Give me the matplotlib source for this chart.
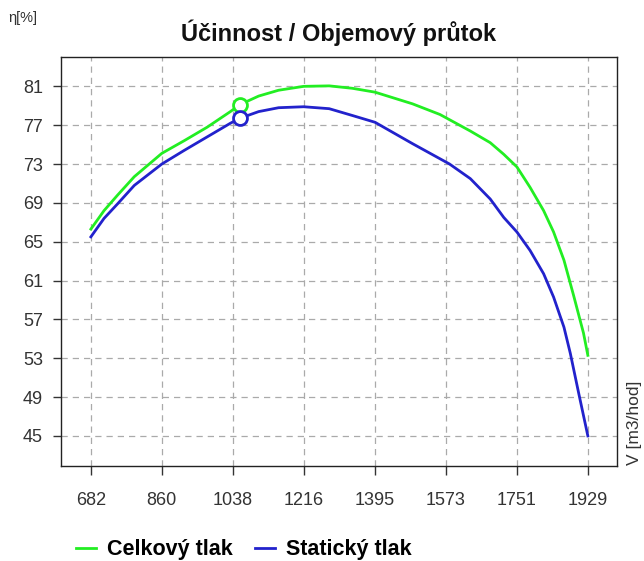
import matplotlib.pyplot as plt

plt.rcParams['font.family'] = ['Liberation Sans', 'DejaVu Sans']

# ── data ─────────────────────────────────────────────────────────────────
flow_celk = [682, 715, 749, 791, 860, 916, 974, 1032, 1055, 1103, 1153, 1216,
             1280, 1338, 1395, 1489, 1558, 1634, 1684, 1718, 1751, 1784, 1818,
             1843, 1869, 1893, 1918, 1929]
eta_celk  = [66.3, 68.2, 69.8, 71.7, 74.1, 75.4, 76.8, 78.4, 79.1, 80.0, 80.6, 81.0,
             81.05, 80.8, 80.4, 79.2, 78.1, 76.4, 75.2, 74.0, 72.7, 70.6, 68.2,
             66.0, 63.1, 59.5, 55.6, 53.3]

flow_stat = [682, 715, 749, 791, 860, 916, 974, 1032, 1055, 1103, 1153, 1216,
             1280, 1338, 1395, 1489, 1582, 1634, 1684, 1718, 1751, 1784, 1818,
             1843, 1869, 1885, 1906, 1929]
eta_stat  = [65.5, 67.4, 68.9, 70.8, 73.0, 74.4, 75.8, 77.2, 77.7, 78.4, 78.8, 78.9,
             78.7, 78.0, 77.3, 75.1, 73.0, 71.5, 69.4, 67.5, 66.0, 64.1, 61.7,
             59.3, 56.2, 53.5, 49.4, 45.0]

# pracovni bod
op_flow = 1055
op_celk = 79.1
op_stat = 77.7

x_ticks = [682, 860, 1038, 1216, 1395, 1573, 1751, 1929]
y_ticks = [45, 49, 53, 57, 61, 65, 69, 73, 77, 81]

GREEN = '#22ee22'
BLUE  = '#2222cc'

fig = plt.figure(figsize=(6.44, 5.61), dpi=100)
ax = fig.add_axes([0.0947, 0.1693, 0.8633, 0.7287])

ax.plot(flow_celk, eta_celk, color=GREEN, lw=2.0, label='Celkový tlak')
ax.plot(flow_stat, eta_stat, color=BLUE, lw=2.0, label='Statický tlak')
ax.plot([op_flow], [op_celk], 'o', ms=10, mfc='white', mec=GREEN, mew=2.0)
ax.plot([op_flow], [op_stat], 'o', ms=10, mfc='white', mec=BLUE, mew=2.0)

ax.set_xlim(607, 2002)
ax.set_ylim(41.9, 84.0)
ax.set_xticks(x_ticks)
ax.set_xticklabels([str(v) for v in x_ticks])
ax.set_yticks(y_ticks)
ax.set_yticklabels([str(v) for v in y_ticks])

ax.grid(True, color='#aaaaaa', ls=(0, (5, 4)), lw=0.9)
ax.tick_params(axis='x', length=6.5, width=1, pad=12, labelsize=13, colors='#333333')
ax.tick_params(axis='y', length=6, width=1, pad=7, labelsize=13, colors='#333333')
for s in ax.spines.values():
    s.set_color('#222222')
    s.set_linewidth(1.0)

fig.text(0.525, 0.941, 'Účinnost / Objemový průtok', ha='center', va='center',
         fontsize=17, fontweight='bold', color='#111111')
fig.text(0.013, 0.968, 'η[%]', ha='left', va='center', fontsize=10.5, color='#333333')
fig.text(0.986, 0.171, 'V [m3/hod]', ha='center', va='bottom', rotation=90,
         fontsize=12.5, color='#333333')

fig.legend(loc='center left', bbox_to_anchor=(0.088, 0.020), ncol=2, frameon=False,
           handlelength=0.95, handletextpad=0.5, columnspacing=1.0,
           prop={'weight': 'bold', 'size': 15.5})

fig.savefig('out.png', dpi=100)
